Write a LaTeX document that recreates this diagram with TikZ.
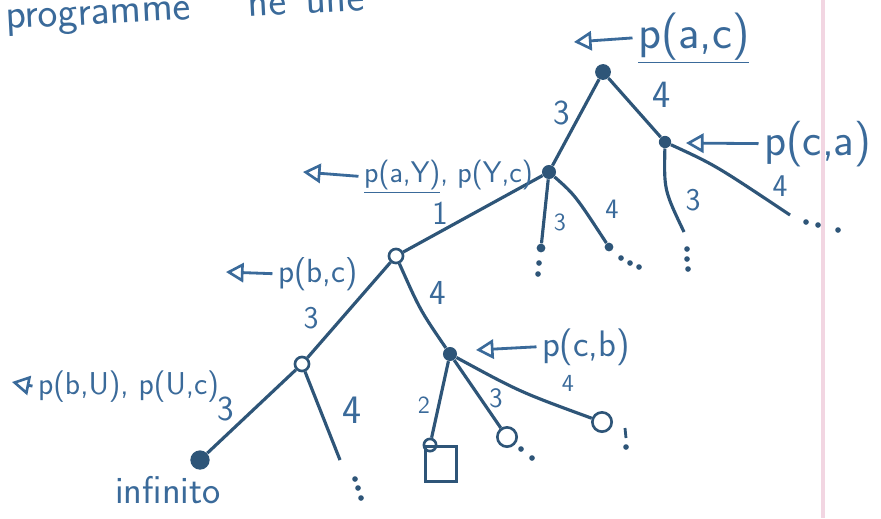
\documentclass[tikz,border=0pt]{standalone}
\usepackage{tikz}
\usetikzlibrary{arrows.meta}
\definecolor{InkBlue}{HTML}{2E5578}
\definecolor{InkText}{HTML}{3A6A9A}
\definecolor{MarginPink}{HTML}{F2D6E2}

\begin{document}
\begin{tikzpicture}[x=0.02cm,y=-0.02cm,every node/.style={text=InkText}]
    \tikzset{goal/.style={circle,fill=InkBlue,inner sep=0pt,minimum size=#1},goal/.default=8pt,
      opengoal/.style={circle,draw=InkBlue,line width=1.5pt,fill=white,inner sep=0pt,minimum size=#1},opengoal/.default=8pt,
      branch/.style={draw=InkBlue,line width=1.8pt},
      ann/.style={font=\sffamily\fontsize{#1}{#1}\selectfont,inner sep=1pt},
      num/.style={font=\sffamily\fontsize{#1}{#1}\selectfont,inner sep=0pt},
      back/.style={-{Triangle[open,length=10pt,width=11pt,line width=1.5pt]},draw=InkText,line width=1.6pt},
      dot/.style={fill=InkBlue}}
    \useasboundingbox (0,0) rectangle (881,518);
    \clip (0,0) rectangle (881,518);
    \fill[white] (0,0) rectangle (881,518);
    \draw[MarginPink,line width=2pt] (823,0) -- (823,518);
    % heading, cut by the top edge
    \node[ann=24,anchor=base west,rotate=3] (head) at (4,29) {programme\hspace{1.15cm}ne\hspace{0.4cm}une};
    % goals
    \node[goal=9pt] (ac) at (603,72) {};
    \node[goal] (ay) at (549,172) {};
    \node[goal=7pt] (ca) at (665,142) {};
    \node[opengoal] (bc) at (396,256) {};
    \node[opengoal] (bu) at (302,364) {};
    \node[goal] (cb) at (450,354) {};
    \node[goal=11pt] (inf) at (200,460) {};
    \node[goal=5pt] (ay3) at (541,248) {};
    \node[goal=5pt] (ay4) at (609,247) {};
    \coordinate (ca3) at (684,232);
    \coordinate (ca4) at (790,215);
    \coordinate (bu4) at (340,460);
    \node[opengoal=7pt] (cb2) at (430,445) {};
    \node[opengoal=11pt] (cb3) at (507,437) {};
    \node[opengoal=11pt] (cb4) at (602,422) {};
    \node[draw=InkBlue,line width=1.8pt,minimum width=18pt,minimum height=20pt,inner sep=0pt] (sq) at (441,464) {};
    % branches
    \draw[branch] (ac) -- (ay);
    \draw[branch] (ac) -- (ca);
    \draw[branch] (ay) -- (bc);
    \draw[branch] (ay) -- (ay3);
    \draw[branch] (ay) .. controls (575,195) .. (ay4);
    \draw[branch] (ca) .. controls (664,190) .. (ca3);
    \draw[branch] (ca) .. controls (715,165) .. (ca4);
    \draw[branch] (bc) -- (bu);
    \draw[branch] (bc) .. controls (420,310) .. (cb);
    \draw[branch] (bu) -- (inf);
    \draw[branch] (bu) -- (bu4);
    \draw[branch] (cb) -- (cb2);
    \draw[branch] (cb) -- (cb3);
    \draw[branch] (cb) .. controls (520,392) .. (cb4);
    % open ends
    \foreach \x/\y in {539/263,538/274,621/258,630/263,639/267,687/249,687/259,688/269,
      806/222,818/225,838/230,355/479,358/488,361/498,521/449,532/458,626/447}
      {\fill[dot] (\x,\y) circle (1.6pt);}
    \draw[InkBlue,line width=1.6pt] (625,428) -- (626,438);
    % clause numbers
    \node[num=20] (l1) at (562,113) {3};
    \node[num=22] (l2) at (662,95) {4};
    \node[num=19] (l3) at (440,213) {1};
    \node[num=14] (l4) at (560,222) {3};
    \node[num=16] (l5) at (612,209) {4};
    \node[num=18] (l6) at (693,200) {3};
    \node[num=18] (l7) at (780,186) {4};
    \node[num=18] (l8) at (311,318) {3};
    \node[num=20] (l9) at (438,293) {4};
    \node[num=20] (l10) at (226,409) {3};
    \node[num=23] (l11) at (352,410) {4};
    \node[num=14] (l12) at (424,405) {2};
    \node[num=16] (l13) at (496,398) {3};
    \node[num=14] (l14) at (568,383) {4};
    \node[ann=22] (infl) at (168,490) {infinito};
    % resolvents
    \node[ann=27,anchor=base west] (tac) at (636,48) {\underline{p(a,c)}};
    \node[ann=26,anchor=base west] (tca) at (762,155) {p(c,a)};
    \node[ann=17,anchor=base west] (tay) at (362,182) {\underline{p(a,Y)}, p(Y,c)};
    \node[ann=19,anchor=base west] (tbc) at (276,282) {p(b,c)};
    \node[ann=18,anchor=base west] (tbu) at (36,394) {p(b,U), p(U,c)};
    \node[ann=21,anchor=base west] (tcb) at (540,356) {p(c,b)};
    \coordinate (kac) at (574,42);
    \coordinate (kca) at (686,143);
    \coordinate (kay) at (303,172);
    \coordinate (kbc) at (226,272);
    \coordinate (kbu) at (12,382);
    \coordinate (kcb) at (476,350);
    \foreach \t/\k in {tac/kac,tca/kca,tay/kay,tbc/kbc,tbu/kbu,tcb/kcb}
      {\draw[back] ([xshift=-2pt]\t.west) -- (\k);}
  \end{tikzpicture}
\end{document}
